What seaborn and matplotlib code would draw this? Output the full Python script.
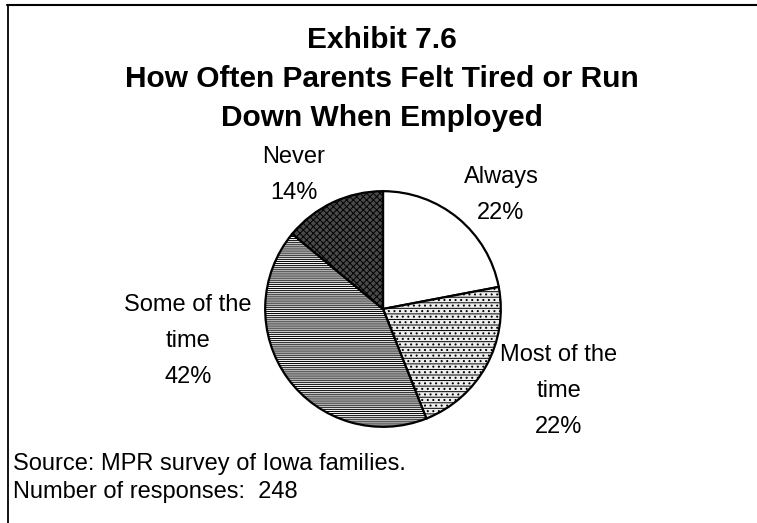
import matplotlib
matplotlib.use("Agg")
import matplotlib.pyplot as plt
from matplotlib.lines import Line2D
import seaborn as sns

# Survey responses: how often parents felt tired or run down when employed
categories = ["Always", "Most of the\ntime", "Some of the\ntime", "Never"]
percents = [22, 22, 42, 14]
n_responses = 248

title_lines = ["Exhibit 7.6",
               "How Often Parents Felt Tired or Run",
               "Down When Employed"]
source_note = "Source: MPR survey of Iowa families."

sns.set_theme(style="white")
plt.rcParams["font.family"] = ["Liberation Sans", "DejaVu Sans"]
plt.rcParams["hatch.linewidth"] = 0.7

W, H = 757, 523
fig = plt.figure(figsize=(W / 100, H / 100), dpi=100)
fig.patch.set_facecolor("white")


def fx(px):
    return px / W


def fy(py):
    return 1 - py / H


# Pie placed in its own square axes
cx, cy, r = 383, 309, 119
ax = fig.add_axes([fx(cx - r), fy(cy + r), 2 * r / W, 2 * r / H])

faces = ["white", "#eeeeee", "#f4f4f4", "#4a4a4a"]
hatches = [None, "...---", "--------", "xxxxx"]

wedges, _ = ax.pie(percents, startangle=90, counterclock=False,
                   colors=faces, radius=1.0,
                   wedgeprops=dict(edgecolor="black", linewidth=1.6))
for w, h in zip(wedges, hatches):
    if h:
        w.set_hatch(h)
ax.set_xlim(-1.01, 1.01)
ax.set_ylim(-1.01, 1.01)
ax.set_aspect("equal")
ax.axis("off")

# Slice labels
label_pos = [(501, 195), (559, 391), (188, 341), (294, 175)]
for name, pct, (px, py) in zip(categories, percents, label_pos):
    fig.text(fx(px), fy(py), f"{name}\n{pct}%", ha="center", va="center",
             fontsize=17, linespacing=1.8, color="black")

# Title
for i, line in enumerate(title_lines):
    fig.text(fx(382), fy(40 + 39 * i), line, ha="center", va="center",
             fontsize=21.5, fontweight="bold", color="black")

# Notes
fig.text(fx(13), fy(464), source_note, ha="left", va="center",
         fontsize=17, color="black")
fig.text(fx(13), fy(492), f"Number of responses:  {n_responses}",
         ha="left", va="center", fontsize=17, color="black")

# Frame lines along top and left edges
fig.add_artist(Line2D([fx(7), fx(757)], [fy(5), fy(5)], color="black", lw=1.5))
fig.add_artist(Line2D([fx(7.5), fx(7.5)], [fy(5), fy(523)], color="black", lw=1.3))

fig.savefig("out.png", dpi=100, facecolor="white")
